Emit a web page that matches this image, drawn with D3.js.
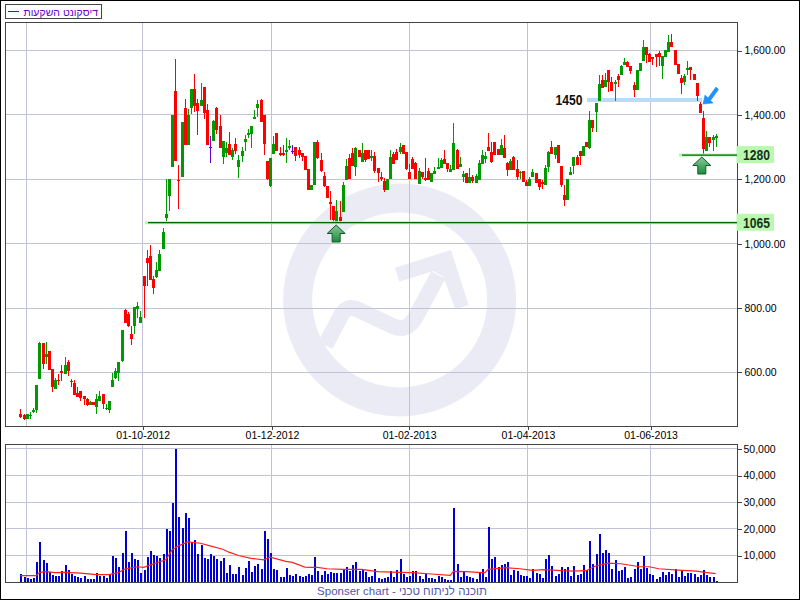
<!DOCTYPE html>
<html><head><meta charset="utf-8">
<script src="https://cdn.jsdelivr.net/npm/d3@7/dist/d3.min.js"></script>
<style>html,body{margin:0;padding:0;background:#fff}svg{display:block}text{font-family:"Liberation Sans",Arial,sans-serif}</style>
</head><body><div id="chart"></div>
<script>
const opens=[470,468,455,464,477,483,580,691,648,666,610,548,577,604,596,633,574,567,535,542,526,517,498,508,492,511,532,486,483,554,582,598,636,795,782,718,744,797,753,899,955,961,890,896,915,983,1079,1149,1238,1474,1198,1207,1421,1306,1421,1480,1437,1427,1487,1415,1300,1319,1421,1365,1269,1281,1309,1269,1309,1238,1272,1316,1337,1340,1387,1421,1446,1399,1257,1179,1278,1344,1281,1281,1284,1297,1287,1300,1291,1281,1272,1232,1166,1182,1316,1260,1210,1179,1129,1117,1067,1082,1098,1197,1265,1281,1238,1291,1253,1292,1292,1266,1272,1235,1207,1194,1166,1201,1278,1285,1285,1306,1285,1222,1263,1249,1185,1222,1204,1225,1191,1216,1232,1235,1263,1250,1222,1229,1291,1238,1207,1219,1188,1207,1188,1197,1247,1263,1300,1285,1316,1294,1275,1297,1250,1229,1269,1232,1219,1225,1191,1179,1207,1219,1201,1191,1182,1238,1300,1275,1306,1241,1151,1135,1213,1241,1269,1288,1272,1316,1297,1384,1409,1443,1508,1486,1539,1502,1496,1521,1524,1555,1564,1552,1493,1477,1536,1567,1611,1589,1580,1589,1592,1551,1580,1595,1626,1601,1558,1514,1502,1539,1549,1527,1499,1434,1390,1288,1331,1322,1328];
const highs=[487,472,470,477,488,560,694,691,694,666,610,584,595,622,648,638,581,576,554,542,526,519,510,508,532,542,532,501,511,598,613,632,731,798,788,744,802,818,790,899,980,995,899,943,980,1048,1200,1200,1399,1574,1244,1378,1449,1418,1480,1527,1449,1499,1487,1434,1334,1384,1424,1399,1319,1316,1347,1297,1328,1275,1300,1337,1356,1365,1415,1446,1449,1399,1257,1266,1334,1344,1300,1306,1328,1322,1306,1300,1300,1281,1272,1232,1182,1316,1322,1281,1222,1179,1163,1117,1135,1132,1191,1263,1280,1296,1301,1291,1313,1292,1292,1291,1285,1235,1222,1203,1201,1291,1285,1294,1313,1306,1285,1247,1269,1253,1235,1222,1266,1235,1219,1239,1266,1266,1291,1250,1244,1375,1294,1269,1225,1219,1235,1213,1216,1260,1291,1285,1344,1316,1316,1294,1325,1337,1253,1263,1272,1260,1225,1225,1197,1207,1232,1219,1201,1197,1244,1288,1319,1300,1306,1241,1182,1201,1239,1269,1275,1288,1303,1316,1412,1384,1437,1524,1524,1530,1539,1518,1509,1527,1555,1577,1567,1552,1502,1539,1561,1633,1611,1592,1580,1589,1598,1583,1601,1648,1651,1601,1558,1524,1527,1567,1549,1527,1499,1440,1412,1350,1331,1337,1340];
const lows=[457,452,455,455,474,474,580,611,626,607,540,548,560,574,596,588,555,529,523,511,498,496,498,498,470,511,485,483,473,554,579,574,633,753,741,685,719,768,753,769,868,887,843,893,915,983,1067,1101,1238,1257,1108,1207,1306,1306,1403,1409,1337,1427,1387,1306,1250,1319,1340,1297,1247,1269,1275,1260,1278,1204,1253,1288,1328,1297,1387,1393,1378,1275,1197,1176,1278,1288,1272,1272,1250,1291,1278,1256,1266,1256,1229,1166,1166,1182,1263,1222,1176,1141,1073,1067,1067,1067,1098,1197,1201,1241,1210,1269,1253,1253,1263,1257,1221,1191,1194,1160,1166,1201,1247,1260,1278,1278,1229,1201,1232,1201,1185,1201,1194,1198,1191,1216,1232,1235,1247,1222,1222,1229,1232,1238,1191,1188,1188,1188,1188,1197,1247,1250,1288,1250,1275,1275,1275,1266,1210,1229,1229,1197,1201,1191,1179,1179,1207,1188,1166,1169,1182,1222,1278,1263,1250,1176,1117,1135,1213,1216,1244,1244,1272,1300,1294,1347,1347,1443,1483,1486,1472,1474,1443,1486,1524,1555,1549,1527,1455,1477,1536,1567,1561,1564,1555,1549,1552,1513,1580,1595,1611,1555,1527,1465,1493,1524,1508,1508,1443,1406,1278,1288,1300,1288,1300];
const closes=[462,454,470,467,483,560,691,626,657,607,554,576,574,598,623,604,570,531,523,521,516,498,508,498,517,526,501,489,511,576,604,632,731,753,744,703,802,807,772,868,940,887,862,918,968,1036,1092,1200,1399,1257,1195,1378,1306,1399,1480,1427,1412,1446,1406,1306,1300,1381,1353,1297,1319,1297,1275,1291,1288,1260,1288,1325,1343,1365,1393,1434,1378,1309,1201,1266,1309,1288,1275,1275,1291,1303,1287,1272,1275,1269,1229,1166,1182,1316,1266,1225,1179,1141,1123,1073,1101,1070,1182,1241,1201,1241,1297,1269,1281,1260,1263,1272,1225,1219,1201,1166,1201,1269,1247,1260,1300,1278,1232,1201,1232,1201,1225,1207,1198,1198,1219,1225,1238,1260,1247,1232,1232,1313,1232,1247,1216,1188,1207,1194,1210,1250,1275,1272,1288,1253,1275,1275,1306,1266,1229,1257,1229,1207,1222,1191,1179,1201,1222,1188,1176,1185,1235,1285,1278,1300,1250,1182,1135,1201,1223,1269,1244,1272,1303,1300,1384,1359,1437,1496,1483,1508,1502,1474,1502,1508,1552,1564,1549,1536,1477,1539,1561,1611,1586,1564,1573,1580,1580,1583,1601,1626,1611,1555,1527,1499,1520,1545,1539,1508,1458,1406,1294,1331,1312,1331,1334];
const volumes=[3000,1860,1490,1100,1490,7440,15250,8180,7070,3720,2600,2230,2230,4090,6320,4460,2980,2230,1860,1490,2230,1120,1120,1120,3350,2230,2230,1490,2980,9670,8930,5580,11160,19340,7440,10790,8560,8180,3350,4460,9300,11900,10040,9670,8930,10420,20090,19340,29760,49850,24550,20460,26040,24180,15250,16000,10420,14140,8930,8560,10420,9670,8560,7810,8930,3350,6320,2980,2980,5580,2600,5210,7810,3720,5950,6700,4840,19340,16370,10790,4840,4460,1860,1860,5210,2600,2230,2980,2230,1860,2230,2980,2600,9300,4090,2600,4090,2980,3720,3350,3350,3350,4840,5580,4090,6320,7440,4090,4840,3720,1860,2230,4840,1490,1120,1490,1860,4090,1860,4460,8560,2980,1860,2230,4090,4090,2230,1120,2980,1490,1490,1120,2230,1860,1120,740,740,27900,6700,1860,3720,2230,1860,1490,1120,3350,4840,1860,20830,8560,9300,5580,6320,6700,7440,2600,4460,4090,2600,2230,2230,1490,4840,3350,2980,1490,8560,10040,5950,2230,2980,5580,4840,5580,2230,5950,2600,2980,6320,4460,15620,6700,10420,18230,11160,12280,11160,4840,8180,4090,4460,5580,1490,1860,4840,7440,4840,9670,5210,2980,2600,1120,1860,3720,2600,3720,2980,4840,1860,4460,2230,3350,3350,2980,1860,2600,4460,2600,1860,1860,370];
const avgIndex=[0,5,6,8,11,14,16,19,24,28,31,33,37,39,41,46,48,50,53,57,60,64,66,69,73,77,79,84,86,90,92,94,97,102,108,113,120,124,130,136,137,141,146,147,148,154,158,162,166,171,175,179,182,186,190,196,199,202,208,214,216,220];
const avgVolume=[2480,2480,3600,3970,3600,3720,3600,3470,2850,2850,3600,4960,5830,5580,6450,8430,12150,13640,15130,14630,13640,12400,11280,10040,8930,8430,9420,7810,7440,5700,5580,5580,5080,4840,4840,3970,3720,3600,3100,2600,4090,3970,3600,3600,4840,5460,5080,4460,4710,4340,4220,4340,6080,7190,6940,5830,5830,5080,4590,4220,3840,3220];
const priceTicks=[600,800,1000,1200,1400,1600];
const volumeTicks=[10000,20000,30000,40000,50000];
const gridIndex=[2,38.7,79.6,123,160.6,199.4];
const dateLabels=["","01-10-2012","01-12-2012","01-02-2013","01-04-2013","01-06-2013"];
const legendLabel="דיסקונט השקעות";
const footerLabel="Sponser chart - תוכנה לניתוח טכני";
const supportLow=1065, supportHigh=1275, resistance=1446;
const supportLowLabel="1065", supportHighLabel="1280", resistanceLabel="1450";
const supportLowIndex=100, supportHighIndex=216;

const W=800,H=600,L=5.5,R=737.5,T=22.5,B=426.5,VT=444.5,VB=582.5;
const svg=d3.select("#chart").append("svg").attr("width",W).attr("height",H);
const defs=svg.append("defs");
const grad=defs.append("linearGradient").attr("id","upg").attr("x1",0).attr("x2",0).attr("y1",0).attr("y2",1);
grad.append("stop").attr("offset","0").attr("stop-color","#8cc79a");
grad.append("stop").attr("offset","1").attr("stop-color","#1c8c3c");
svg.append("rect").attr("x",.5).attr("y",.5).attr("width",W-1).attr("height",H-1).attr("fill","#fff").attr("stroke","#000");

const x=d3.scaleLinear().domain([0,220]).range([20.4,715.7]);
const y=d3.scaleLinear().domain([600,1600]).range([372.4,50.5]);
const yv=d3.scaleLinear().domain([0,50000]).range([582.3,448.8]);
const idx=d3.range(opens.length);
const GRID="#c2c2d6", GREEN="#009900", RED="#ff0000", PURPLE="#6600cc";

// watermark
const wm=svg.append("g").attr("transform","translate(270,170) scale(0.3333)");
const WMC="#ebebf5";
wm.append("circle").attr("cx",389).attr("cy",390).attr("r",306).attr("fill","none").attr("stroke",WMC).attr("stroke-width",87);
wm.append("path").attr("d","M166,526 L214,435 Q232,405 262,418 L372,470 Q410,485 435,445 L505,315").attr("fill","none").attr("stroke",WMC).attr("stroke-width",48);
wm.append("path").attr("d","M375,293 L543,240 L596,405 L556,418 L520,320 L490,303 L388,335 Z").attr("fill",WMC);

// grids
const gridG=svg.append("g").attr("stroke",GRID).attr("shape-rendering","crispEdges");
gridIndex.forEach(i=>{
  gridG.append("line").attr("x1",x(i)).attr("x2",x(i)).attr("y1",T).attr("y2",B);
  gridG.append("line").attr("x1",x(i)).attr("x2",x(i)).attr("y1",VT).attr("y2",VB);
});
priceTicks.forEach(v=>gridG.append("line").attr("x1",L).attr("x2",R).attr("y1",y(v)).attr("y2",y(v)));
volumeTicks.forEach(v=>gridG.append("line").attr("x1",L).attr("x2",R).attr("y1",yv(v)).attr("y2",yv(v)));

// resistance highlight under candles
const colour=i=>closes[i]>opens[i]?GREEN:closes[i]<opens[i]?RED:PURPLE;
svg.append("line").attr("x1",587).attr("x2",702).attr("y1",y(resistance)).attr("y2",y(resistance)).attr("stroke","#b9dcf9").attr("stroke-width",4).attr("shape-rendering","crispEdges");

// candles
const cx=i=>Math.round(x(i));
const cg=svg.append("g").attr("shape-rendering","crispEdges");
cg.selectAll(".w").data(idx).join("rect").attr("x",i=>cx(i)).attr("width",1)
  .attr("y",i=>y(highs[i])).attr("height",i=>Math.max(1,y(lows[i])-y(highs[i]))).attr("fill",colour);
cg.selectAll(".b").data(idx).join("rect").attr("x",i=>cx(i)-1).attr("width",3)
  .attr("y",i=>y(Math.max(opens[i],closes[i]))).attr("height",i=>Math.max(1,Math.abs(y(opens[i])-y(closes[i])))).attr("fill",colour);

// volume
const vg=svg.append("g").attr("shape-rendering","crispEdges");
vg.selectAll("rect").data(idx).join("rect").attr("x",i=>cx(i)-.5).attr("width",2)
  .attr("y",i=>yv(volumes[i])).attr("height",i=>yv(0)-yv(volumes[i])).attr("fill","#0000d0");
svg.append("path").datum(avgIndex).attr("fill","none").attr("stroke","#ff2020").attr("stroke-width",1.2)
  .attr("d",d3.line().x(i=>x(i)).y((i,k)=>yv(avgVolume[k])));

// frames and axes
[[T,B],[VT,VB]].forEach(([a,b])=>svg.append("rect").attr("x",L).attr("y",a).attr("width",R-L).attr("height",b-a).attr("fill","none").attr("stroke","#444").attr("shape-rendering","crispEdges"));
function styleAxis(g){g.select(".domain").remove();g.selectAll("line").attr("stroke","#444").attr("shape-rendering","crispEdges");g.selectAll("text").attr("fill","#000").attr("font-size","10.5px").attr("font-family",'"Liberation Sans",Arial,sans-serif');}
svg.append("g").attr("transform",`translate(${R},0)`).call(d3.axisRight(y).tickValues(priceTicks).tickSize(4).tickPadding(3).tickFormat(d3.format(",.2f"))).call(styleAxis);
svg.append("g").attr("transform",`translate(${R},0)`).call(d3.axisRight(yv).tickValues(volumeTicks).tickSize(4).tickPadding(2).tickFormat(d3.format(","))).call(styleAxis);
svg.append("g").attr("transform",`translate(0,${B})`).call(d3.axisBottom(x).tickValues(gridIndex.slice(1)).tickSize(3).tickPadding(2).tickFormat((d,k)=>dateLabels[k+1])).call(styleAxis);

// support lines
function support(v,x1,x2,lab){
  const yy=y(v);
  svg.append("rect").attr("x",736.5).attr("y",yy-9).attr("width",37.5).attr("height",17).attr("fill","#b9f9b0");
  svg.append("line").attr("x1",x1-3).attr("x2",x2+5).attr("y1",yy).attr("y2",yy).attr("stroke","#b4f5ae").attr("stroke-width",3);
  svg.append("line").attr("x1",x1).attr("x2",x2).attr("y1",yy).attr("y2",yy).attr("stroke","#006600").attr("stroke-width",1.3);
  svg.append("text").attr("x",756.5).attr("y",yy+5).attr("text-anchor","middle").attr("font-weight","bold").attr("font-size","14px").attr("textLength",27).attr("lengthAdjust","spacingAndGlyphs").attr("fill","#183018").text(lab);
}
support(supportLow,148,737,supportLowLabel);
support(supportHigh,682,737,supportHighLabel);
svg.append("text").attr("x",569).attr("y",y(resistance)+5).attr("text-anchor","middle").attr("font-weight","bold").attr("font-size","14px").attr("textLength",27).attr("lengthAdjust","spacingAndGlyphs").attr("fill","#101010").text(resistanceLabel);

// arrows
function upArrow(i,top){
  const c=x(i)-.3;
  svg.append("path").attr("transform",`translate(${c},${top})`).attr("d","M0,0 L9,8.5 L4,8.5 L4,17 L-4,17 L-4,8.5 L-9,8.5 Z").attr("fill","url(#upg)").attr("stroke","#0c5c20").attr("stroke-width",1);
}
upArrow(supportLowIndex,225);
upArrow(supportHighIndex-.3,157);
svg.append("path").attr("d","M703,104 L705,95 L708,98 L716,87 L718.5,89.5 L710.5,100.5 L713,103 Z").attr("fill","#1e90ff").attr("stroke","#1e90ff").attr("stroke-width",.6);

// legend
svg.append("rect").attr("x",5.5).attr("y",4.5).attr("width",96).attr("height",14).attr("fill","#fff").attr("stroke","#444").attr("shape-rendering","crispEdges");
svg.append("line").attr("x1",8).attr("x2",19).attr("y1",11.5).attr("y2",11.5).attr("stroke",PURPLE).attr("shape-rendering","crispEdges");
svg.append("text").attr("x",98).attr("y",15.5).attr("text-anchor","start").attr("direction","rtl").attr("font-family","DejaVu Sans").attr("font-size","10.5px").attr("fill",PURPLE).text(legendLabel);
svg.append("text").attr("x",402).attr("y",595).attr("text-anchor","middle").attr("font-family","DejaVu Sans").attr("font-size","11.5px").attr("fill","#5555a8").text(footerLabel);
</script></body></html>
